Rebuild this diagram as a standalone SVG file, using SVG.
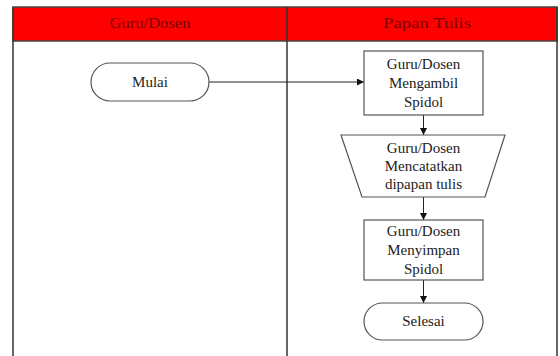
<svg xmlns="http://www.w3.org/2000/svg" width="560" height="356" viewBox="0 0 560 356">
<defs>
<style>
.hdr{fill:#ff0000;stroke:#444;stroke-width:1.5}
.frame{fill:none;stroke:#333;stroke-width:1.5}
.node{fill:#fff;stroke:#555;stroke-width:1.2}
.edge{fill:none;stroke:#222;stroke-width:1}
.ht{font-family:'Liberation Serif','DejaVu Serif',serif;font-size:14px;fill:#7a0000;text-anchor:middle}
.t{font-family:'Liberation Serif','DejaVu Serif',serif;font-size:15px;fill:#222;text-anchor:middle}
</style>
<marker id="arr" viewBox="0 0 10 10" refX="10" refY="5" markerWidth="7" markerHeight="7" markerUnits="userSpaceOnUse" orient="auto">
<path d="M0,0 L10,5 L0,10 z" fill="#111"/>
</marker>
</defs>
<rect x="0" y="0" width="560" height="356" fill="#fff"/>
<g id="lanes">
<rect class="hdr" x="13" y="7" width="544" height="34"/>
<line class="frame" x1="13" y1="7" x2="13" y2="360"/>
<line class="frame" x1="557" y1="7" x2="557" y2="360"/>
<line class="frame" x1="287" y1="7" x2="287" y2="360"/>
<text class="ht" x="150" y="28" textLength="81" lengthAdjust="spacingAndGlyphs">Guru/Dosen</text>
<text class="ht" x="427" y="28" textLength="88" lengthAdjust="spacingAndGlyphs">Papan Tulis</text>
</g>
<g id="connectors">
<line class="edge" x1="209" y1="82" x2="364" y2="82" marker-end="url(#arr)"/>
<line class="edge" x1="423.5" y1="115" x2="423.5" y2="135" marker-end="url(#arr)"/>
<line class="edge" x1="423.5" y1="197" x2="423.5" y2="220" marker-end="url(#arr)"/>
<line class="edge" x1="423.5" y1="280" x2="423.5" y2="303" marker-end="url(#arr)"/>
</g>
<g id="mulai">
<rect class="node" x="91" y="63" width="118" height="38" rx="19" ry="19"/>
<text class="t" x="150" y="87">Mulai</text>
</g>
<g id="ambil">
<rect class="node" x="364" y="51" width="119" height="64"/>
<text class="t" x="423.5" y="69">Guru/Dosen</text>
<text class="t" x="423.5" y="88">Mengambil</text>
<text class="t" x="423.5" y="107">Spidol</text>
</g>
<g id="catat">
<polygon class="node" points="341,135 505,135 485,197 362,197"/>
<text class="t" x="423.5" y="153">Guru/Dosen</text>
<text class="t" x="423.5" y="171">Mencatatkan</text>
<text class="t" x="423.5" y="189">dipapan tulis</text>
</g>
<g id="simpan">
<rect class="node" x="364" y="220" width="119" height="60"/>
<text class="t" x="423.5" y="236">Guru/Dosen</text>
<text class="t" x="423.5" y="255">Menyimpan</text>
<text class="t" x="423.5" y="274">Spidol</text>
</g>
<g id="selesai">
<rect class="node" x="364" y="303" width="119" height="37" rx="18.5" ry="18.5"/>
<text class="t" x="423.5" y="326">Selesai</text>
</g>
</svg>
